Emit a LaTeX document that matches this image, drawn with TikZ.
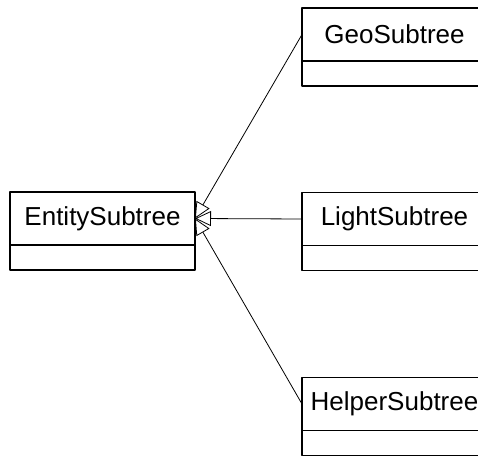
\documentclass[tikz,border=0pt]{standalone}
\usepackage{fontspec}
\setmainfont{Liberation Sans}
\usetikzlibrary{arrows.meta}
\usetikzlibrary{positioning}
\tikzset{classname/.style={draw,line width=1.3bp,minimum width=185bp,minimum height=53bp,inner sep=0pt,outer sep=0pt,font=\fontsize{26bp}{30bp}\selectfont},
  classattr/.style={draw,line width=1.3bp,minimum width=185bp,minimum height=25bp,inner sep=0pt,outer sep=0pt,below=0pt of #1}}
\begin{document}
\begin{tikzpicture}[>={Triangle[open,length=16bp,width=15bp]},line join=bevel,]
\useasboundingbox (0bp,0bp) rectangle (478bp,457bp);
\clip (0bp,0bp) rectangle (478bp,457bp);
%%
\node (node_0) at (102.5bp,238.5bp) [classname] {EntitySubtree};
  \node (node_0a) [classattr=node_0] {};
  \node (node_1) at (394.5bp,422.5bp) [classname] {GeoSubtree};
  \node (node_1a) [classattr=node_1] {};
  \node (node_2) at (394.5bp,238bp) [classname] {LightSubtree};
  \node (node_2a) [classattr=node_2] {};
  \node (node_3) at (394.5bp,53bp) [classname] {HelperSubtree};
  \node (node_3a) [classattr=node_3] {};
  \draw [black,line width=0.8bp,->] (node_1.west) -- (node_0.east);
  \draw [black,line width=0.8bp,->] (node_2.west) -- (node_0.east);
  \draw [black,line width=0.8bp,->] (node_3.west) -- (node_0.east);
%
\end{tikzpicture}
\end{document}
